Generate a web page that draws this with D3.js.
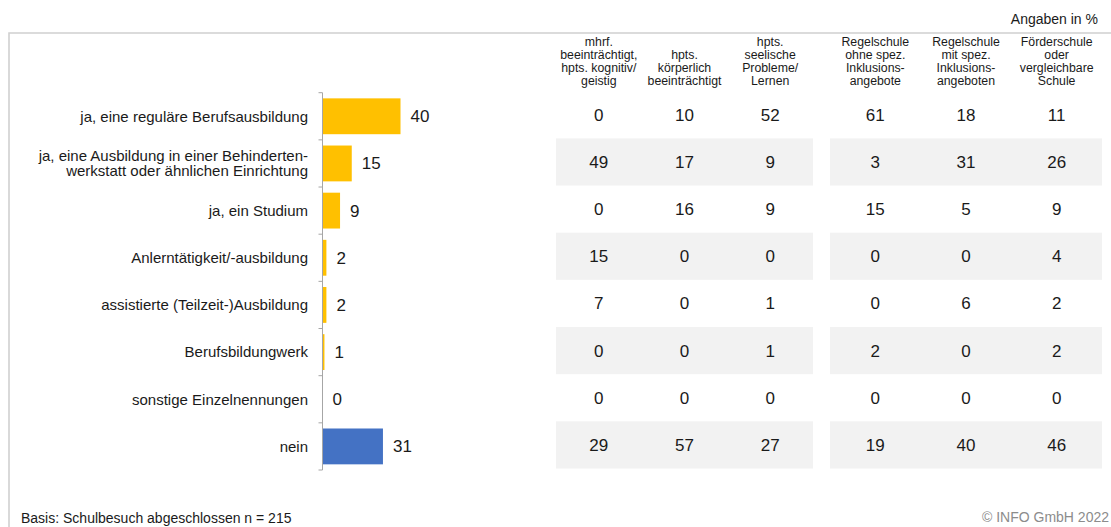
<!DOCTYPE html>
<html>
<head>
<meta charset="utf-8">
<script src="https://cdn.jsdelivr.net/npm/d3@7/dist/d3.min.js"></script>
<style>
  html, body { margin: 0; padding: 0; background: #fff; }
  svg { display: block; font-family: "Liberation Sans", Arial, sans-serif; }
</style>
</head>
<body>
<svg id="chart" width="1111" height="527"></svg>
<script>
// Answer categories (left bar chart)
const categories = [
  ["ja, eine reguläre Berufsausbildung"],
  ["ja, eine Ausbildung in einer Behinderten-", "werkstatt oder ähnlichen Einrichtung"],
  ["ja, ein Studium"],
  ["Anlerntätigkeit/-ausbildung"],
  ["assistierte (Teilzeit-)Ausbildung"],
  ["Berufsbildungwerk"],
  ["sonstige Einzelnennungen"],
  ["nein"]
];
// Total shares in %
const totals = [40, 15, 9, 2, 2, 1, 0, 31];

// Column groups of the breakdown table
const groupA = [
  ["mhrf.", "beeinträchtigt,", "hpts. kognitiv/", "geistig"],
  ["hpts.", "körperlich", "beeinträchtigt"],
  ["hpts.", "seelische", "Probleme/", "Lernen"]
];
const groupB = [
  ["Regelschule", "ohne spez.", "Inklusions-", "angebote"],
  ["Regelschule", "mit spez.", "Inklusions-", "angeboten"],
  ["Förderschule", "oder", "vergleichbare", "Schule"]
];
// Values per column (one entry per category row)
const mhrfKognitiv   = [0, 49, 0, 15, 7, 0, 0, 29];
const koerperlich    = [10, 17, 16, 0, 0, 0, 0, 57];
const seelisch       = [52, 9, 9, 0, 1, 1, 0, 27];
const regelOhne      = [61, 3, 15, 0, 0, 2, 0, 19];
const regelMit       = [18, 31, 5, 0, 6, 0, 0, 40];
const foerderschule  = [11, 26, 9, 4, 2, 2, 0, 46];

const valuesA = [mhrfKognitiv, koerperlich, seelisch];
const valuesB = [regelOhne, regelMit, foerderschule];

const svg = d3.select("#chart");
const textColor = "#1a1a1a";

// Outer frame (top and left edges)
svg.append("path")
  .attr("d", "M9,527 L9,33 L1111,33")
  .attr("fill", "none")
  .attr("stroke", "#d0d0d0")
  .attr("stroke-width", 1.6);

const idx = d3.range(categories.length);
const rows = d3.scaleBand().domain(idx).range([92.7, 470]).padding(0);
const bars = d3.scaleBand().domain(idx).range([92.7, 470])
  .paddingInner(0.24).paddingOuter(0.12);
const x = d3.scaleLinear().domain([0, 100]).range([322.5, 517.5]);

// Alternating row shading behind the table
const colsA = d3.scaleBand().domain(d3.range(3)).range([556, 813]);
const colsB = d3.scaleBand().domain(d3.range(3)).range([830, 1102]);
const shaded = idx.filter(i => i % 2 === 1);
[colsA, colsB].forEach(cs => {
  svg.append("g").selectAll("rect").data(shaded).join("rect")
    .attr("x", cs.range()[0])
    .attr("width", cs.range()[1] - cs.range()[0])
    .attr("y", i => rows(i) - 1.5)
    .attr("height", rows.bandwidth())
    .attr("fill", "#f2f2f2");
});

// Bars
svg.append("g").selectAll("rect").data(idx).join("rect")
  .attr("x", x(0))
  .attr("y", i => bars(i))
  .attr("width", i => x(totals[i]) - x(0))
  .attr("height", bars.bandwidth())
  .attr("fill", i => i === categories.length - 1 ? "#4472c4" : "#ffc000");

// Category axis with ticks on band boundaries
const axisG = svg.append("g");
axisG.append("line")
  .attr("x1", x(0)).attr("x2", x(0))
  .attr("y1", rows.range()[0]).attr("y2", rows.range()[1])
  .attr("stroke", "#a6a6a6").attr("stroke-width", 1);
const boundaries = idx.map(i => rows(i)).concat([rows.range()[1]]);
axisG.selectAll("line.tick").data(boundaries).join("line")
  .attr("class", "tick")
  .attr("x1", x(0) - 4).attr("x2", x(0))
  .attr("y1", d => d).attr("y2", d => d)
  .attr("stroke", "#a6a6a6").attr("stroke-width", 1);

// Category labels
const lab = svg.append("g")
  .attr("font-size", 15).attr("fill", textColor).attr("text-anchor", "end");
idx.forEach(i => {
  const lines = categories[i];
  const cy = rows(i) + rows.bandwidth() / 2;
  const lh = 15;
  const t = lab.append("text").attr("x", 308);
  lines.forEach((l, k) => {
    t.append("tspan")
      .attr("x", 308)
      .attr("y", cy + (k - (lines.length - 1) / 2) * lh + 5.3)
      .text(l);
  });
});

// Value labels next to bars
svg.append("g").selectAll("text").data(idx).join("text")
  .attr("x", i => x(totals[i]) + 10)
  .attr("y", i => bars(i) + bars.bandwidth() / 2 + 6)
  .attr("font-size", 17).attr("fill", textColor)
  .text(i => totals[i]);

// Table headers (one multi-line text each) and values
function drawGroup(cs, headers, values) {
  const g = svg.append("g").attr("text-anchor", "middle").attr("fill", textColor);
  headers.forEach((lines, c) => {
    const cx = cs(c) + cs.bandwidth() / 2;
    const t = g.append("text").attr("font-size", 12.3);
    const n = lines.length;
    lines.forEach((l, k) => {
      t.append("tspan").attr("x", cx)
        .attr("y", 84.5 - (n - 1 - k) * 12.8)
        .text(l);
    });
    g.selectAll(null).data(idx).join("text")
      .attr("x", cx)
      .attr("y", i => rows(i) + rows.bandwidth() / 2 + 4.5)
      .attr("font-size", 17)
      .text(i => values[c][i]);
  });
}
drawGroup(colsA, groupA, valuesA);
drawGroup(colsB, groupB, valuesB);

// Notes
svg.append("text")
  .attr("x", 1098).attr("y", 24)
  .attr("text-anchor", "end").attr("font-size", 14).attr("fill", textColor)
  .text("Angaben in %");
svg.append("text")
  .attr("x", 21).attr("y", 523)
  .attr("font-size", 14).attr("fill", textColor)
  .text("Basis: Schulbesuch abgeschlossen n = 215");
svg.append("text")
  .attr("x", 1109).attr("y", 522)
  .attr("text-anchor", "end").attr("font-size", 14).attr("fill", "#8c8c8c")
  .text("© INFO GmbH 2022");
</script>
</body>
</html>
